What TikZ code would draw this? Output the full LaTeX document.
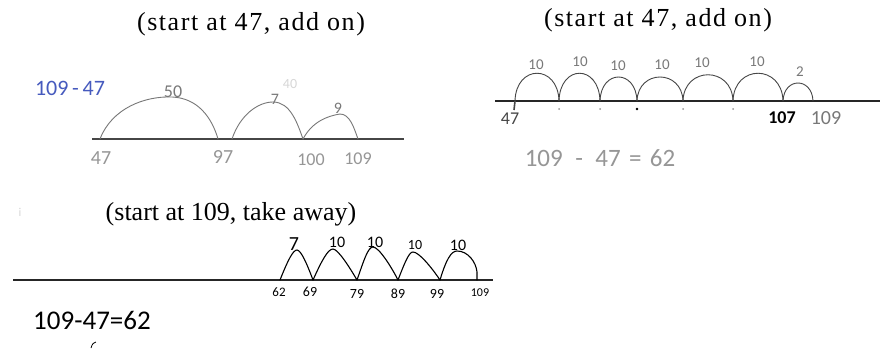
\documentclass[tikz,border=0pt]{standalone}
\usepackage{fontspec}
\setmainfont{Liberation Serif}
\newfontfamily\titlewide[LetterSpace=6]{Liberation Serif}
\newfontfamily\hand{Carlito}
\definecolor{pencil}{RGB}{120,120,120}
\definecolor{lightpencil}{RGB}{150,150,150}
\definecolor{faint}{RGB}{215,215,215}
\definecolor{darkpencil}{RGB}{70,70,70}
\definecolor{bluepen}{RGB}{70,90,190}
\tikzset{
  title/.style={font=\fontsize{26}{28}\selectfont, inner sep=0pt},
  titlew/.style={font=\titlewide\fontsize{26}{28}\selectfont, inner sep=0pt},
  hw/.style={font=\hand\fontsize{#1}{#1}\selectfont, inner sep=0pt},
  hw/.default=18,
  hop/.style={line width=0.9pt, line cap=round, line join=round},
  axis/.style={line width=1.4pt},
}
\begin{document}
\begin{tikzpicture}[x=1pt,y=-1pt]
\useasboundingbox (0,0) rectangle (880,348);
\fill[white] (0,0) rectangle (880,348);

% ---------- titles ----------
\node[titlew] (t1) at (251,24) {(start at 47, add on)};
\node[titlew] (t2) at (658,20) {(start at 47, add on)};
\node[title] (t3) at (231,214) {(start at 109, take away)};

% ---------- top-left number line ----------
\coordinate (L0) at (92,139);
\coordinate (L1) at (404,139);
\draw[axis, darkpencil] (L0) -- (L1);
\coordinate (a47) at (100,139);
\coordinate (a97) at (218,139);
\coordinate (a97b) at (232,139);
\coordinate (a100) at (303,139);
\coordinate (a109) at (358,139);
\draw[hop, pencil] (a47) .. controls (112,108) and (145,96) .. (172,97)
   .. controls (198,98) and (212,118) .. (a97);
\draw[hop, pencil] (a97b) .. controls (240,115) and (258,102) .. (273,102)
   .. controls (290,102) and (297,122) .. (a100);
\draw[hop, pencil] (a100) .. controls (312,122) and (327,116) .. (340,114)
   .. controls (350,114) and (354,128) .. (a109);
\node[hw=18, pencil] (n50) at (173,92) {50};
\node[hw=16, pencil] (n7) at (275,99) {7};
\node[hw=16, pencil] (n9) at (338,108) {9};
\node[hw=14, faint] (n40) at (290,84) {40};
\node[hw=20, lightpencil] (l47) at (101,158) {47};
\node[hw=20, lightpencil] (l97) at (223,157) {97};
\node[hw=18, lightpencil] (l100) at (311,160) {100};
\node[hw=18, lightpencil] (l109) at (358,159) {109};
\node[hw=22, bluepen] (blue) at (70,88) {109\,-\,47};

% ---------- top-right number line ----------
\coordinate (R0) at (495,101);
\coordinate (R1) at (880,101);
\draw[axis, black!85] (R0) -- (R1);
\coordinate (b0) at (515,101);
\coordinate (b1) at (559,101);
\coordinate (b2) at (600,101);
\coordinate (b3) at (637,101);
\coordinate (b4) at (683,101);
\coordinate (b5) at (733,101);
\coordinate (b6) at (783,101);
\coordinate (b7) at (813,101);
\draw[hop, darkpencil] (b0) .. controls +(1,-37) and +(-1,-37) .. (b1);
\draw[hop, darkpencil] (b1) .. controls +(1,-37) and +(-1,-37) .. (b2);
\draw[hop, darkpencil] (b2) .. controls +(1,-32) and +(-1,-32) .. (b3);
\draw[hop, darkpencil] (b3) .. controls +(1,-32) and +(-1,-32) .. (b4);
\draw[hop, darkpencil] (b4) .. controls +(1,-35) and +(-1,-35) .. (b5);
\draw[hop, darkpencil] (b5) .. controls +(1,-37) and +(-1,-37) .. (b6);
\draw[hop, darkpencil] (b6) .. controls +(1,-24) and +(-1,-24) .. (b7);
\draw[line width=1.6pt, darkpencil] (b0) -- ++(-1,9);
\foreach \p in {b1,b2,b3,b4,b5}{\fill[lightpencil] (\p) ++(0,8) circle (1pt);}
\fill[black] (b3) ++(0,8) circle (1.3pt);
\node[hw=15, pencil] (c1) at (536,65) {10};
\node[hw=15, pencil] (c2) at (580,62) {10};
\node[hw=15, pencil] (c3) at (618,66) {10};
\node[hw=15, pencil] (c4) at (662,65) {10};
\node[hw=15, pencil] (c5) at (702,63) {10};
\node[hw=15, pencil] (c6) at (757,62) {10};
\node[hw=15, pencil] (c7) at (800,72) {2};
\node[hw=18, darkpencil] (r47) at (510,119) {47};
\node[hw=18, black, font=\hand\bfseries\fontsize{18}{18}\selectfont] (r107) at (782,118) {107};
\node[hw=20, pencil] (r109) at (826,118) {109};
\node[hw=25, lightpencil] (req) at (600,158) {109\,\,\,-\,\,\,47\,\,=\,\,62};

% ---------- bottom number line ----------
\coordinate (B0) at (13,280);
\coordinate (B1) at (493,280);
\draw[axis, black!85] (B0) -- (B1);
\coordinate (d62) at (280,280);
\coordinate (d69) at (313,280);
\coordinate (d79) at (357,280);
\coordinate (d89) at (398,280);
\coordinate (d99) at (440,280);
\coordinate (d109) at (477,280);
\tikzset{bhop/.style={line width=1.1pt, line cap=round, line join=round, black}}
\draw[bhop] (d62) .. controls (288,260) and (293,250) .. (297,250)
   .. controls (301,250) and (307,264) .. (d69);
\draw[bhop] (d69) .. controls (322,260) and (328,249) .. (333,249)
   .. controls (338,249) and (350,268) .. (d79);
\draw[bhop] (d79) .. controls (364,260) and (368,247) .. (373,247)
   .. controls (379,247) and (392,268) .. (d89);
\draw[bhop] (d89) .. controls (405,262) and (409,252) .. (413,252)
   .. controls (419,252) and (432,268) .. (d99);
\draw[bhop] (d99) .. controls (446,260) and (451,251) .. (457,251)
   .. controls (468,251) and (476,262) .. (477,272) -- (d109);
\node[hw=20, black] (e7) at (294,244) {7};
\node[hw=16, black] (e1) at (337,242) {10};
\node[hw=16, black] (e2) at (375,242) {10};
\node[hw=14, black] (e3) at (415,245) {10};
\node[hw=16, black] (e4) at (458,245) {10};
\node[hw=13, black] (f62) at (279,292) {62};
\node[hw=14, black] (f69) at (310,292) {69};
\node[hw=14, black] (f79) at (357,294) {79};
\node[hw=14, black] (f89) at (398,294) {89};
\node[hw=14, black] (f99) at (437,294) {99};
\node[hw=12, black] (f109) at (480,293) {109};
\node[hw=27, black] (eq) at (92,320) {109-47=62};
\node[hw=12, faint] (mk) at (20,212) {i};
\draw[line width=0.8pt, black] (91,348) .. controls (92,344) and (94,342) .. (96,342);
\end{tikzpicture}
\end{document}
